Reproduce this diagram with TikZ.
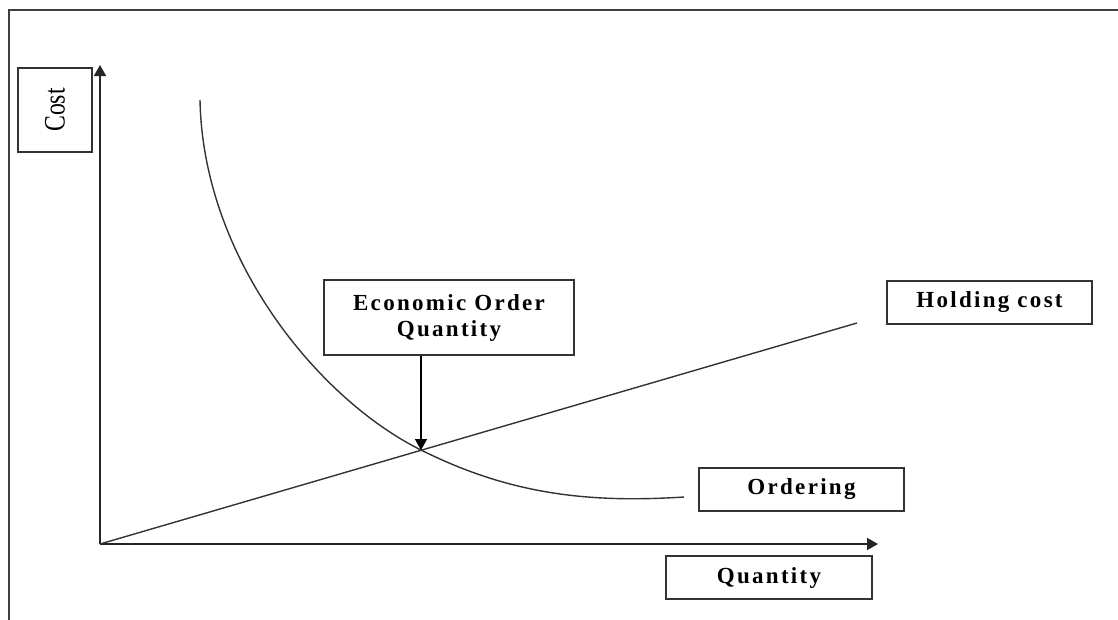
\documentclass[tikz,border=0pt]{standalone}
\usepackage{fontspec}
\setmainfont{Liberation Serif}
\newfontfamily\labelfont[LetterSpace=10]{Liberation Serif Bold}
\usetikzlibrary{arrows.meta}
\tikzset{
  every picture/.style={x=1pt,y=-1pt},
  thin line/.style={line width=1.4pt, draw=black!80},
  frame line/.style={line width=2pt, draw=black!75},
  axis/.style={line width=1.6pt, draw=black!85, -{Triangle[length=11pt,width=12pt]}},
  labelbox/.style={draw=black!80, line width=1.5pt, fill=white, inner sep=0pt,
    font=\labelfont\fontsize{23pt}{26pt}\selectfont, align=center},
  pointer/.style={line width=1.5pt, draw=black, -{Triangle[length=11pt,width=12pt]}}
}
\begin{document}
\begin{tikzpicture}
\useasboundingbox (0,0) rectangle (1118,619);
\fill[white] (0,0) rectangle (1118,619);

% outer frame (top and left edges)
\draw[frame line] (9,625) -- (9,10) -- (1125,10);

% axes
\coordinate (O) at (100,544);
\coordinate (ytop) at (100,65);
\coordinate (xend) at (878,544);
\draw[axis] (O) -- (ytop);
\draw[axis] (O) -- (xend);

% holding cost line
\coordinate (hend) at (857,323);
\draw[thin line] (O) -- (hend);

% ordering cost curve
\coordinate (ostart) at (200,100);
\coordinate (eoqpt) at (421,450);
\coordinate (oend) at (684,497);
\draw[thin line] (ostart) .. controls (203,260) and (320,400) .. (eoqpt)
                          .. controls (511,495) and (590,503) .. (oend);

% labels
\node[draw=black!80, line width=1.5pt, minimum width=74pt, minimum height=84pt, inner sep=0pt] (cost) at (55,110) {};
\node[rotate=90, font=\fontsize{22pt}{22pt}\selectfont] (costlbl) at (cost.center) {\scalebox{1.08}[1.35]{Cost}};
\node[labelbox, minimum width=250pt, minimum height=75pt] (eoq) at (449,317.5) {Economic Order\\Quantity};
\node[labelbox, minimum width=205pt, minimum height=43pt] (hold) at (989.5,302.5) {Holding cost};
\node[labelbox, minimum width=205pt, minimum height=43pt] (ord) at (801.5,489.5) {Ordering};
\node[labelbox, minimum width=206pt, minimum height=43pt] (qty) at (769,577.5) {Quantity};

% pointer to the optimum
\draw[pointer] (eoqpt |- eoq.south) -- (eoqpt);
\end{tikzpicture}
\end{document}
